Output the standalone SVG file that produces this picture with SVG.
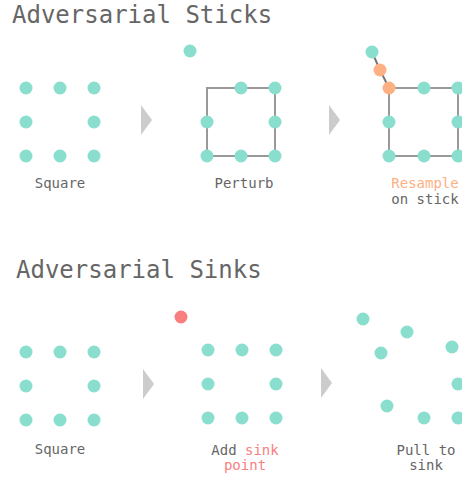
<svg xmlns="http://www.w3.org/2000/svg" width="462" height="477" viewBox="0 0 462 477">
<style>
.title{font-family:"DejaVu Sans Mono","Liberation Mono",monospace;font-size:24px;fill:#666}
.lbl{font-family:"DejaVu Sans Mono","Liberation Mono",monospace;font-size:14px;fill:#666;text-anchor:middle}
.or{fill:#FDB083}
.rd{fill:#F77F7F}
.t{fill:#8ADECD}
.o{fill:#FDB083}
.r{fill:#F77F7F}
.arr{fill:#CCCCCC}
.stick{fill:none;stroke:#999;stroke-width:2}
</style>
<rect width="462" height="477" fill="#fff"/>
<text class="title" x="12" y="23">Adversarial Sticks</text>
<text class="title" x="16" y="278">Adversarial Sinks</text>
<g id="connectors">
<polygon class="arr" points="141,105 152,120 141,135"/>
<polygon class="arr" points="329,105 340,120 329,135"/>
<polygon class="arr" points="143,369 154,384 143,399"/>
<polygon class="arr" points="321,368 332,383 321,398"/>
<path class="stick" d="M207,156 V88 H275 V156 Z"/>
<path class="stick" d="M389,156 V88 H458 V156 Z"/>
<path d="M372,52 L380,70 L389,88" fill="none" stroke="#777" stroke-width="2"/>
</g>
<g id="square1">
<circle class="t" cx="26" cy="88" r="6.5"/><circle class="t" cx="60" cy="88" r="6.5"/><circle class="t" cx="94" cy="88" r="6.5"/>
<circle class="t" cx="26" cy="122" r="6.5"/><circle class="t" cx="94" cy="122" r="6.5"/>
<circle class="t" cx="26" cy="156" r="6.5"/><circle class="t" cx="60" cy="156" r="6.5"/><circle class="t" cx="94" cy="156" r="6.5"/>
<text class="lbl" x="60" y="188">Square</text>
</g>
<g id="perturb">
<circle class="t" cx="190" cy="51" r="6.5"/>
<circle class="t" cx="241" cy="88" r="6.5"/><circle class="t" cx="275" cy="88" r="6.5"/>
<circle class="t" cx="207" cy="122" r="6.5"/><circle class="t" cx="275" cy="122" r="6.5"/>
<circle class="t" cx="207" cy="156" r="6.5"/><circle class="t" cx="241" cy="156" r="6.5"/><circle class="t" cx="275" cy="156" r="6.5"/>
<text class="lbl" x="244" y="188">Perturb</text>
</g>
<g id="resample">
<circle class="t" cx="372" cy="52" r="6.5"/>
<circle class="o" cx="380" cy="70" r="6.5"/>
<circle class="o" cx="389" cy="88" r="6.5"/>
<circle class="t" cx="424" cy="88" r="6.5"/><circle class="t" cx="458" cy="88" r="6.5"/>
<circle class="t" cx="389" cy="122" r="6.5"/><circle class="t" cx="458" cy="122" r="6.5"/>
<circle class="t" cx="389" cy="156" r="6.5"/><circle class="t" cx="424" cy="156" r="6.5"/><circle class="t" cx="458" cy="156" r="6.5"/>
<text class="lbl or" x="425" y="188">Resample</text>
<text class="lbl" x="425" y="204">on stick</text>
</g>
<g id="square2">
<circle class="t" cx="26" cy="352" r="6.5"/><circle class="t" cx="60" cy="352" r="6.5"/><circle class="t" cx="94" cy="352" r="6.5"/>
<circle class="t" cx="26" cy="386" r="6.5"/><circle class="t" cx="94" cy="386" r="6.5"/>
<circle class="t" cx="26" cy="420" r="6.5"/><circle class="t" cx="60" cy="420" r="6.5"/><circle class="t" cx="94" cy="420" r="6.5"/>
<text class="lbl" x="60" y="454">Square</text>
</g>
<g id="addsink">
<circle class="r" cx="181" cy="317" r="6.5"/>
<circle class="t" cx="208" cy="350" r="6.5"/><circle class="t" cx="242" cy="350" r="6.5"/><circle class="t" cx="276" cy="350" r="6.5"/>
<circle class="t" cx="208" cy="384" r="6.5"/><circle class="t" cx="276" cy="384" r="6.5"/>
<circle class="t" cx="208" cy="418" r="6.5"/><circle class="t" cx="242" cy="418" r="6.5"/><circle class="t" cx="276" cy="418" r="6.5"/>
<text class="lbl" x="245" y="455">Add <tspan class="rd">sink</tspan></text>
<text class="lbl rd" x="245" y="470">point</text>
</g>
<g id="pull">
<circle class="t" cx="363" cy="319" r="6.5"/>
<circle class="t" cx="407" cy="332" r="6.5"/>
<circle class="t" cx="381" cy="353" r="6.5"/>
<circle class="t" cx="452" cy="347" r="6.5"/>
<circle class="t" cx="458" cy="384" r="6.5"/>
<circle class="t" cx="387" cy="406" r="6.5"/>
<circle class="t" cx="424" cy="418" r="6.5"/>
<circle class="t" cx="458" cy="418" r="6.5"/>
<text class="lbl" x="426" y="455">Pull to</text>
<text class="lbl" x="426" y="470">sink</text>
</g>
</svg>
